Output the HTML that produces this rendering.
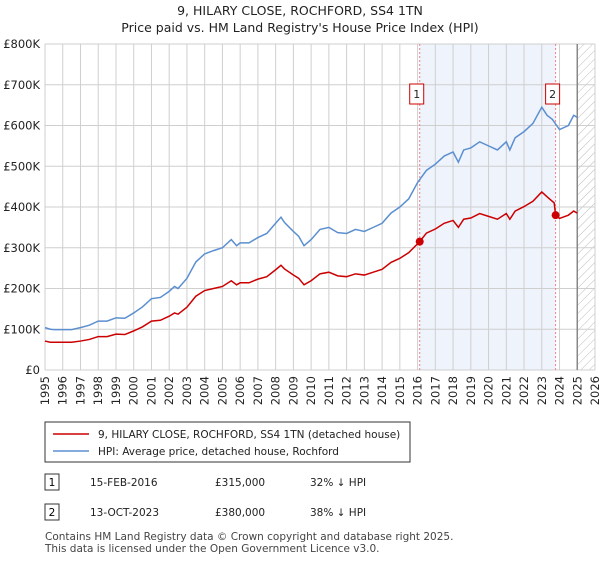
<!DOCTYPE html>
<html><head><meta charset="utf-8"><style>
body{margin:0;background:#fff;font-family:"Liberation Sans","DejaVu Sans",sans-serif;}
svg text{font-family:"DejaVu Sans","Liberation Sans",sans-serif;}
</style></head><body>
<svg id="c" width="600" height="560" xmlns="http://www.w3.org/2000/svg">
<defs><pattern id="hatch" width="6" height="6" patternUnits="userSpaceOnUse" patternTransform="rotate(45)"><line x1="0" y1="0" x2="0" y2="6" stroke="#bbb" stroke-width="1"/></pattern></defs>
<text x="300" y="15" text-anchor="middle" font-size="12.5" fill="#222">9, HILARY CLOSE, ROCHFORD, SS4 1TN</text>
<text x="300" y="32" text-anchor="middle" font-size="12.5" fill="#222">Price paid vs. HM Land Registry's House Price Index (HPI)</text>
<g id="plot"></g>
<g>
<rect x="45" y="422" width="365" height="40" fill="#fff" stroke="#333" stroke-width="1"/>
<line x1="53" y1="434" x2="89" y2="434" stroke="#cc0000" stroke-width="1.5"/>
<text x="98" y="438" font-size="10.5" fill="#222">9, HILARY CLOSE, ROCHFORD, SS4 1TN (detached house)</text>
<line x1="53" y1="451" x2="89" y2="451" stroke="#5b8fd0" stroke-width="1.5"/>
<text x="98" y="455" font-size="10.5" fill="#222">HPI: Average price, detached house, Rochford</text>
</g>
<g>
<rect x="45" y="474" width="14" height="16" fill="#fff" stroke="#333"/><text x="52" y="486" font-size="10.5" text-anchor="middle">1</text>
<text x="90" y="486" font-size="10.5" fill="#222">15-FEB-2016</text><text x="215" y="486" font-size="10.5" fill="#222">£315,000</text><text x="310" y="486" font-size="10.5" fill="#222">32% ↓ HPI</text>
<rect x="45" y="504" width="14" height="16" fill="#fff" stroke="#333"/><text x="52" y="516" font-size="10.5" text-anchor="middle">2</text>
<text x="90" y="516" font-size="10.5" fill="#222">13-OCT-2023</text><text x="215" y="516" font-size="10.5" fill="#222">£380,000</text><text x="310" y="516" font-size="10.5" fill="#222">38% ↓ HPI</text>
</g>
<text x="45" y="540" font-size="10.5" fill="#444">Contains HM Land Registry data © Crown copyright and database right 2025.</text>
<text x="45" y="552" font-size="10.5" fill="#444">This data is licensed under the Open Government Licence v3.0.</text>
</svg>
<script>
const hpiYears=[1995,1995.3,1995.5,1996,1996.5,1997,1997.5,1998,1998.5,1999,1999.5,2000,2000.5,2001,2001.5,2002,2002.3,2002.5,2003,2003.5,2004,2004.5,2005,2005.5,2005.8,2006,2006.5,2007,2007.5,2008,2008.3,2008.5,2009,2009.3,2009.6,2010,2010.5,2011,2011.5,2012,2012.5,2013,2013.5,2014,2014.5,2015,2015.5,2016,2016.5,2017,2017.5,2018,2018.3,2018.6,2019,2019.5,2020,2020.5,2021,2021.2,2021.5,2022,2022.5,2023,2023.3,2023.6,2024,2024.5,2024.8,2025];
const hpiValues=[104,100,99,99,99,104,110,120,120,128,127,140,155,175,178,193,205,200,225,265,285,293,300,320,305,312,312,325,335,360,375,362,340,328,305,320,345,350,337,335,345,340,350,360,385,400,420,460,490,505,525,535,510,540,545,560,550,540,560,540,570,585,605,645,625,615,590,600,625,620];
const priceYears=[1995,1995.3,1996,1996.5,1997,1997.5,1998,1998.5,1999,1999.5,2000,2000.5,2001,2001.5,2002,2002.3,2002.5,2003,2003.5,2004,2004.5,2005,2005.5,2005.8,2006,2006.5,2007,2007.5,2008,2008.3,2008.5,2009,2009.3,2009.6,2010,2010.5,2011,2011.5,2012,2012.5,2013,2013.5,2014,2014.5,2015,2015.5,2016.12,2016.5,2017,2017.5,2018,2018.3,2018.6,2019,2019.5,2020,2020.5,2021,2021.2,2021.5,2022,2022.5,2023,2023.3,2023.7,2023.78,2024,2024.5,2024.8,2025];
const priceValues=[71,68,68,68,71,75,82,82,88,87,96,106,120,122,132,140,137,154,181,195,200,205,219,209,214,214,223,229,246,257,248,233,225,209,219,236,240,231,229,236,233,240,247,264,274,288,315,336,346,360,367,350,370,373,384,377,370,384,370,390,401,414,437,425,410,380,372,380,390,385];
const sales=[[2016.12,315,"1"],[2023.78,380,"2"]];
const yTicks=[0,100,200,300,400,500,600,700,800];
const yLabels=["£0","£100K","£200K","£300K","£400K","£500K","£600K","£700K","£800K"];
const xTicks=[];for(let y=1995;y<=2026;y++)xTicks.push(y);
const X0=45,X1=595,Y0=370,Y1=44;
const xs=v=>X0+(v-1995)/(2026-1995)*(X1-X0);
const ys=v=>Y0-v/800*(Y0-Y1);
const NS="http://www.w3.org/2000/svg";
const g=document.getElementById('plot');
function mk(t,a){const e=document.createElementNS(NS,t);for(const k in a)e.setAttribute(k,a[k]);g.appendChild(e);return e;}
let e;
e=mk('rect',{x:xs(2016.12),y:Y1,width:xs(2023.78)-xs(2016.12),height:Y0-Y1,fill:'#eef3fc'});


e=mk('rect',{x:xs(2025),y:Y1,width:X1-xs(2025),height:Y0-Y1,fill:'url(#hatch)'});


xTicks.forEach(t=>{e=mk('line',{x1:xs(t),x2:xs(t),y1:Y1,y2:Y0,stroke:'#cfcfcf','stroke-width':1});


e=mk('text',{x:0,y:0,'font-size':11.5,fill:'#222','text-anchor':'end',transform:`translate(${xs(t)+4},${Y0+6}) rotate(-90)`});e.textContent=t;

});
yTicks.forEach((t,i)=>{e=mk('line',{x1:X0,x2:X1,y1:ys(t),y2:ys(t),stroke:'#cfcfcf','stroke-width':1});


e=mk('text',{x:X0-5,y:ys(t)+4,'font-size':11.5,fill:'#222','text-anchor':'end'});e.textContent=yLabels[i];

});
e=mk('line',{x1:xs(2025),x2:xs(2025),y1:Y1,y2:Y0,stroke:'#888','stroke-width':1.5});


sales.forEach(s=>{e=mk('line',{x1:xs(s[0]),x2:xs(s[0]),y1:Y1,y2:Y0,stroke:'#f08080','stroke-dasharray':'2,2','stroke-width':1});

});
e=mk('polyline',{points:hpiYears.map((y,i)=>xs(y)+','+ys(hpiValues[i])).join(' '),fill:'none',stroke:'#5b8fd0','stroke-width':1.5});


e=mk('polyline',{points:priceYears.map((y,i)=>xs(y)+','+ys(priceValues[i])).join(' '),fill:'none',stroke:'#cc0000','stroke-width':1.5});


sales.forEach(s=>{e=mk('circle',{cx:xs(s[0]),cy:ys(s[1]),r:4,fill:'#cc0000'});


const bx=xs(s[0])-3;
e=mk('rect',{x:bx-7,y:84,width:14,height:20,fill:'#fff',stroke:'#cc0000','stroke-width':1});


e=mk('text',{x:bx,y:98,'font-size':11,'text-anchor':'middle',fill:'#222'});e.textContent=s[2];

});
</script>
</body></html>
